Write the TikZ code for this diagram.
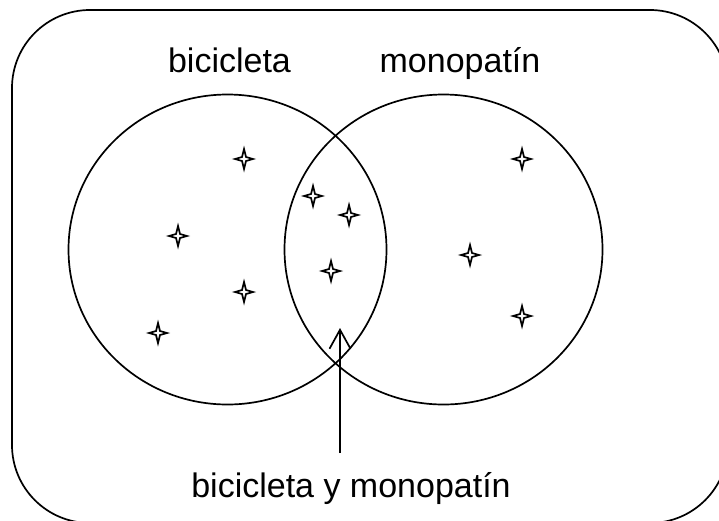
\documentclass[tikz,border=0pt]{standalone}
\usepackage{fontspec}
\setmainfont{Liberation Sans}
\usetikzlibrary{arrows.meta,shapes.geometric}
\tikzset{
  line/.style={line width=1.7pt},
  setring/.style={line, draw, ellipse, minimum width=318pt, minimum height=310pt, inner sep=0pt},
  lbl/.style={anchor=base, inner sep=0pt, font=\fontsize{34}{40}\selectfont},
  sparkle/.pic={\draw[line width=1.7pt, fill=white, line join=miter]
     (0,10)--(2,2)--(9,0)--(2,-2)--(0,-10)--(-2,-2)--(-9,0)--(-2,2)--cycle;}
}
\begin{document}
\begin{tikzpicture}[x=1pt,y=-1pt]
\useasboundingbox (0,0) rectangle (719,520);
\draw[line, rounded corners=78pt] (12,10) rectangle (728,523);
\node[setring] (bici) at (227.5,249.5) {};
\node[setring] (mono) at (443.5,249.5) {};
\node[lbl] (tbici) at (229.5,72) {bicicleta};
\node[lbl] (tmono) at (460,72) {monopatín};
\node[lbl] (tboth) at (351,497) {bicicleta y monopatín};
\coordinate (foot) at (340,453);
\coordinate (tip) at (340,328);
\draw[line, -{Straight Barb[length=19pt,width=21pt,line width=1.7pt]}] (foot) -- (tip);
\foreach \p in {(244,159),(178,236),(244,292),(158,333),
                (313,196),(349,215),(331,271),
                (522,159),(470,255),(522,316)}
  \pic at \p {sparkle};
\end{tikzpicture}
\end{document}
